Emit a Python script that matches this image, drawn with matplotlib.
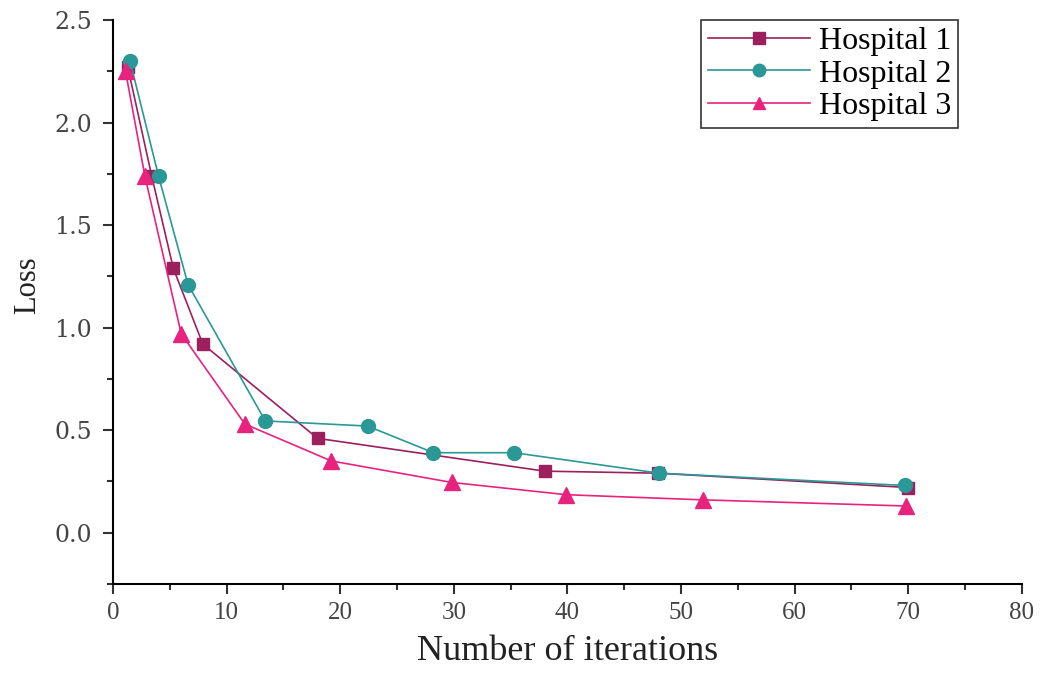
import matplotlib
matplotlib.use("Agg")
import matplotlib.pyplot as plt
from matplotlib.ticker import MultipleLocator

# Loss curves
h1_x = [1.3, 3.4, 5.3, 7.9, 18.0, 38.0, 48.0, 70.0]
h1_y = [2.27, 1.74, 1.29, 0.92, 0.46, 0.30, 0.29, 0.22]
h2_x = [1.5, 4.0, 6.6, 13.4, 22.4, 28.2, 35.3, 48.1, 69.7]
h2_y = [2.30, 1.74, 1.21, 0.545, 0.52, 0.39, 0.39, 0.29, 0.23]
h3_x = [1.1, 2.8, 6.0, 11.6, 19.2, 29.8, 39.9, 51.9, 69.8]
h3_y = [2.25, 1.74, 0.97, 0.53, 0.35, 0.245, 0.185, 0.16, 0.13]
labels = ["Hospital 1", "Hospital 2", "Hospital 3"]

serif = "Liberation Serif"

fig = plt.figure(figsize=(10.47, 6.75), dpi=100)
ax = fig.add_axes([0.108, 0.135, 0.868, 0.835])

ax.plot(h1_x, h1_y, color="#9c1f5e", marker="s", markersize=9, lw=1.2, label=labels[0])
ax.plot(h2_x, h2_y, color="#2a9896", marker="o", markersize=10, lw=1.2, label=labels[1])
ax.plot(h3_x, h3_y, color="#e8237e", marker="^", markersize=11, lw=1.2, label=labels[2])

ax.set_xlim(0, 80)
ax.set_ylim(-0.25, 2.5)
ax.xaxis.set_major_locator(MultipleLocator(10))
ax.xaxis.set_minor_locator(MultipleLocator(5))
ax.yaxis.set_major_locator(MultipleLocator(0.5))
ax.yaxis.set_minor_locator(MultipleLocator(0.25))
ax.yaxis.set_major_formatter(plt.FormatStrFormatter("%.1f"))

for s in ["top", "right"]:
    ax.spines[s].set_visible(False)
for s in ["left", "bottom"]:
    ax.spines[s].set_linewidth(1.5)

ax.tick_params(which="major", direction="out", length=7, width=1.5, colors="#333333",
               labelcolor="#444444")
ax.tick_params(which="minor", direction="out", length=4, width=1.5, colors="#333333")
ax.tick_params(axis="x", labelsize=18, labelfontfamily=serif, pad=6)
ax.tick_params(axis="y", labelsize=17, labelfontfamily="DejaVu Serif", pad=8)

ax.set_xlabel("Number of iterations", fontsize=26, fontfamily=serif, color="#222222", labelpad=8)
ax.set_ylabel("Loss", fontsize=22, fontfamily=serif, color="#222222")
ax.yaxis.set_label_coords(-0.078, 0.53)

leg = ax.legend(loc="upper right", bbox_to_anchor=(0.93, 1.0), prop={"family": serif, "size": 23},
                frameon=True, fancybox=False, edgecolor="black", handlelength=3.2,
                borderpad=0.2, labelspacing=0.1, handletextpad=0.3, borderaxespad=0)
leg.get_frame().set_linewidth(1.2)
for h in leg.legend_handles:
    h.set_markersize(9)

fig.savefig("out.png", dpi=100)
